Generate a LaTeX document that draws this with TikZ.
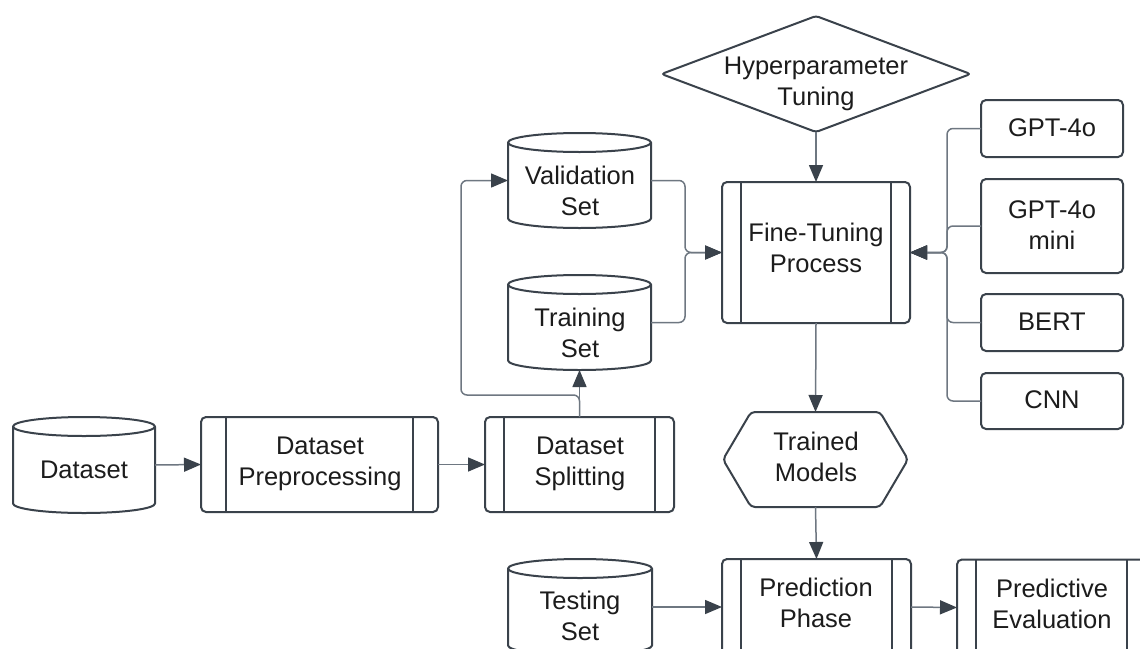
\documentclass[tikz,border=0pt]{standalone}
\usepackage{fontspec}
\setmainfont{Liberation Sans}
\usetikzlibrary{arrows.meta,calc}
\definecolor{strokec}{HTML}{3A424B}
\definecolor{connc}{HTML}{6E7781}
\definecolor{txtc}{HTML}{1C1C1C}
\newcommand\drawcyl[3]{%
  \fill[white] ([yshift=-#3pt]#1.north west) -- ([yshift=#3pt]#1.south west) arc[start angle=180,end angle=360,x radius=#2pt,y radius=#3pt] -- ([yshift=-#3pt]#1.north east) arc[start angle=0,end angle=180,x radius=#2pt,y radius=#3pt] -- cycle;
  \draw[shp] ([yshift=-#3pt]#1.north west) -- ([yshift=#3pt]#1.south west) arc[start angle=180,end angle=360,x radius=#2pt,y radius=#3pt] -- ([yshift=-#3pt]#1.north east) arc[start angle=0,end angle=180,x radius=#2pt,y radius=#3pt] -- cycle;
  \draw[shp] ([yshift=-#3pt]#1.north west) arc[start angle=180,end angle=360,x radius=#2pt,y radius=#3pt];}
\newcommand\drawbars[2]{%
  \draw[shp] ([xshift=#2pt]#1.north west) -- ([xshift=#2pt]#1.south west);
  \draw[shp] ([xshift=-#2pt]#1.north east) -- ([xshift=-#2pt]#1.south east);}
\begin{document}
\begin{tikzpicture}[x=1pt,y=-1pt,
  frame/.style={draw=none,inner sep=0pt,outer sep=0pt},
  shp/.style={draw=strokec,line width=2pt,line join=round},
  proc/.style={frame,draw=strokec,line width=2pt,rounded corners=5pt,fill=white},
  lbl/.style={inner sep=0pt,align=center,text=txtc,font=\fontsize{25.5}{31}\selectfont},
  con/.style={draw=connc,line width=1.5pt,rounded corners=6pt,-{Triangle[length=17pt,width=14pt,color=strokec]}}]
\useasboundingbox (0,0) rectangle (1140,648);
\clip (0,0) rectangle (1140,648);
% cylinders
\node[frame,minimum width=142pt,minimum height=96pt] (ds) at (84,465) {};
\drawcyl{ds}{71}{9.5}
\node[frame,minimum width=143pt,minimum height=95pt] (val) at (579.5,180.5) {};
\drawcyl{val}{71.5}{9.5}
\node[frame,minimum width=143pt,minimum height=95pt] (tr) at (579.5,322.5) {};
\drawcyl{tr}{71.5}{9.5}
\node[frame,minimum width=144pt,minimum height=96pt] (te) at (580,607) {};
\drawcyl{te}{72}{9.5}
% process boxes
\node[proc,minimum width=237pt,minimum height=95pt] (pp) at (319.5,464.5) {};
\drawbars{pp}{25}
\node[proc,minimum width=189pt,minimum height=95pt] (sp) at (579.5,464.5) {};
\drawbars{sp}{19}
\node[proc,minimum width=188pt,minimum height=141pt] (ft) at (816,252.5) {};
\drawbars{ft}{19}
\node[proc,minimum width=189pt,minimum height=96pt] (pr) at (816.5,607) {};
\drawbars{pr}{19}
\node[proc,minimum width=189pt,minimum height=96pt] (pe) at (1051.5,607.5) {};
\drawbars{pe}{19}
% model boxes
\node[proc,minimum width=142pt,minimum height=57pt] (g1) at (1052,128.5) {};
\node[proc,minimum width=142pt,minimum height=94pt] (g2) at (1052,226) {};
\node[proc,minimum width=142pt,minimum height=57pt] (g3) at (1052,322.5) {};
\node[proc,minimum width=142pt,minimum height=56pt] (g4) at (1052,401) {};
% diamond
\node[frame,minimum width=309pt,minimum height=116pt] (hp) at (816,74) {};
\draw[shp,fill=white,rounded corners=3pt] (hp.west) -- (hp.north) -- (hp.east) -- (hp.south) -- cycle;
% hexagon
\node[frame,minimum width=185pt,minimum height=95pt] (tm) at (815.5,459.5) {};
\draw[shp,fill=white,rounded corners=4pt] (tm.west) -- ([xshift=28pt]tm.north west) -- ([xshift=-28pt]tm.north east) -- (tm.east) -- ([xshift=-28pt]tm.south east) -- ([xshift=28pt]tm.south west) -- cycle;
% labels
\node[lbl] (ds-t) at (84,470) {Dataset};
\node[lbl] (pp-t) at (320,464) {Dataset\\Preprocessing};
\node[lbl] (sp-t) at (580,463.5) {Dataset\\Splitting};
\node[lbl] (val-t) at (580,190.5) {Validation\\Set};
\node[lbl] (tr-t) at (580,332.5) {Training\\Set};
\node[lbl] (hp-t) at (816,84) {Hyperparameter\\Tuning};
\node[lbl] (ft-t) at (816,248) {Fine-Tuning\\Process};
\node[lbl] (g1-t) at (1052,128) {GPT-4o};
\node[lbl] (g2-t) at (1052,225) {GPT-4o\\mini};
\node[lbl] (g3-t) at (1052,322) {BERT};
\node[lbl] (g4-t) at (1052,400) {CNN};
\node[lbl] (tm-t) at (816,456.5) {Trained\\Models};
\node[lbl] (te-t) at (580,616) {Testing\\Set};
\node[lbl] (pr-t) at (816,603) {Prediction\\Phase};
\node[lbl] (pe-t) at (1052,604) {Predictive\\Evaluation};
% helper coordinates
\coordinate (jl) at (685,252.5);
\coordinate (bus) at (947,252.5);
\coordinate (lp) at (461,395);
% connectors
\draw[con] (ds.east) -- (pp.west);
\draw[con] (pp.east) -- (sp.west);
\draw[con] (sp.north) -- (tr.south);
\draw[con] (sp.north) |- (lp) |- (val.west);
\draw[con] (val.east) -| (jl) -- (ft.west);
\draw[con] (tr.east) -| (jl) -- (ft.west);
\draw[con] (hp.south) -- (ft.north);
\draw[con] (g1.west) -| (bus) -- (ft.east);
\draw[con] (g2.west) -| (bus) -- (ft.east);
\draw[con] (g3.west) -| (bus) -- (ft.east);
\draw[con] (g4.west) -| (bus) -- (ft.east);
\draw[con] (ft.south) -- (tm.north);
\draw[con] (tm.south) -- (pr.north);
\draw[con] (te.east) -- (pr.west);
\draw[con] (pr.east) -- (pe.west);
\end{tikzpicture}
\end{document}
